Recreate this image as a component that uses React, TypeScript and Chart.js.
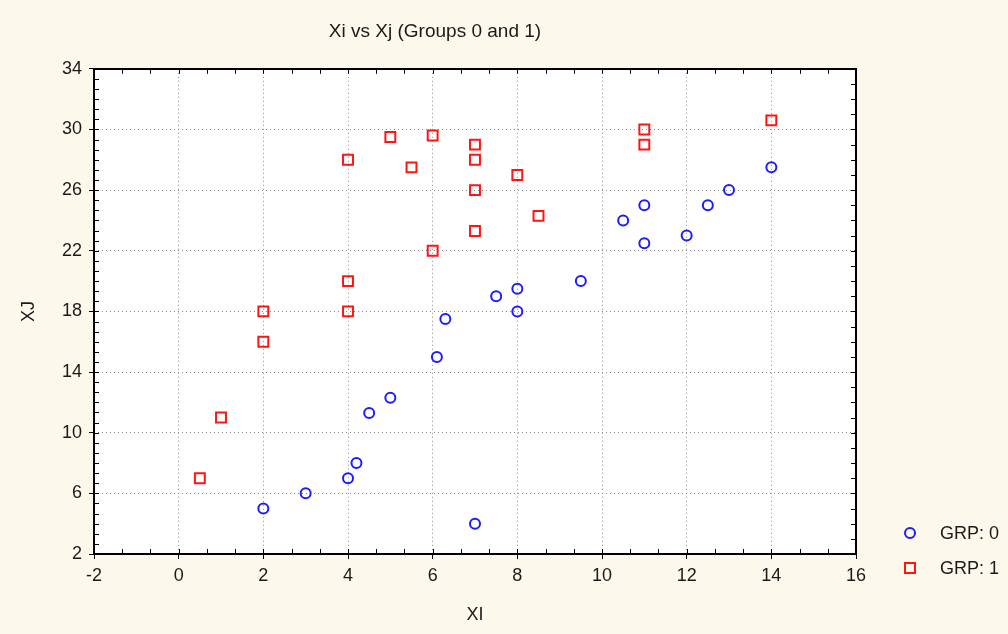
import React, { useEffect, useRef } from 'react';
import { Chart, registerables } from 'chart.js';

Chart.register(...registerables);

const CHART_TITLE = 'Xi vs Xj (Groups 0 and 1)';
const X_TITLE = 'XI';
const Y_TITLE = 'XJ';
const SERIES_NAMES = ['GRP: 0', 'GRP: 1'];

const grp0X = [2, 3, 4, 4.2, 4.5, 5, 6.1, 6.3, 7, 7.5, 8, 8, 9.5, 10.5, 11, 11, 12, 12.5, 13, 14];
const grp0Y = [5, 6, 7, 8, 11.3, 12.3, 15, 17.5, 4, 19, 19.5, 18, 20, 24, 25, 22.5, 23, 25, 26, 27.5];
const grp1X = [0.5, 1, 2, 2, 4, 4, 4, 5, 5.5, 6, 6, 7, 7, 7, 7, 8, 8.5, 11, 11, 14];
const grp1Y = [7, 11, 16, 18, 18, 20, 28, 29.5, 27.5, 29.6, 22, 29, 28, 26, 23.3, 27, 24.3, 30, 29, 30.6];

const X_MIN = -2;
const X_MAX = 16;
const X_STEP = 2;
const Y_MIN = 2;
const Y_MAX = 34;
const Y_STEP = 4;

const FONT_FAMILY = '"Liberation Sans", Arial, sans-serif';
const TEXT_COLOR = '#1a1a1a';
const BG = '#fdf8ec';
const BLUE = '#1c1cff';
const RED = '#ff1414';
const GRID = '#8a8a8a';

const toPoints = (xs: number[], ys: number[]) => xs.map((x, i) => ({ x, y: ys[i] }));

const framePlugin = {
  id: 'frameAndLegend',
  beforeDraw(chart: any) {
    const { ctx, chartArea } = chart;
    ctx.save();
    ctx.fillStyle = BG;
    ctx.fillRect(0, 0, chart.width, chart.height);
    ctx.fillStyle = '#ffffff';
    ctx.fillRect(chartArea.left, chartArea.top, chartArea.right - chartArea.left, chartArea.bottom - chartArea.top);
    ctx.restore();
  },
  afterDraw(chart: any) {
    const { ctx, chartArea } = chart;
    const xs = chart.scales.x;
    const ys = chart.scales.y;
    const { left, right, top, bottom } = chartArea;
    ctx.save();
    ctx.strokeStyle = '#000000';
    ctx.lineWidth = 1;
    const tl = 5;
    ctx.beginPath();
    const nx = Math.round((X_MAX - X_MIN) / (X_STEP / 3));
    for (let i = 1; i < nx; i++) {
      const px = Math.round(xs.getPixelForValue(X_MIN + (i * X_STEP) / 3)) + 0.5;
      ctx.moveTo(px, bottom);
      ctx.lineTo(px, bottom - tl);
      ctx.moveTo(px, top);
      ctx.lineTo(px, top + tl);
    }
    const nl = Math.round((Y_MAX - Y_MIN) / (Y_STEP / 6));
    for (let i = 1; i < nl; i++) {
      const py = Math.round(ys.getPixelForValue(Y_MIN + (i * Y_STEP) / 6)) + 0.5;
      ctx.moveTo(left, py);
      ctx.lineTo(left + tl, py);
    }
    const nr = Math.round((Y_MAX - Y_MIN) / (Y_STEP / 4));
    for (let i = 1; i < nr; i++) {
      const py = Math.round(ys.getPixelForValue(Y_MIN + (i * Y_STEP) / 4)) + 0.5;
      ctx.moveTo(right, py);
      ctx.lineTo(right - tl, py);
    }
    ctx.stroke();

    ctx.lineWidth = 2;
    ctx.strokeRect(Math.round(left), Math.round(top), Math.round(right - left), Math.round(bottom - top));

    const markerX = 910;
    const textX = 940;
    const rowY = [533, 568];
    ctx.font = '18px ' + FONT_FAMILY;
    ctx.textBaseline = 'middle';
    ctx.textAlign = 'left';
    chart.data.datasets.forEach((ds: any, i: number) => {
      ctx.lineWidth = 2;
      ctx.strokeStyle = ds.borderColor;
      ctx.beginPath();
      if (ds.pointStyle === 'rect') {
        ctx.rect(markerX - 5, rowY[i] - 5, 10, 10);
      } else {
        ctx.arc(markerX, rowY[i], 5, 0, Math.PI * 2);
      }
      ctx.stroke();
      ctx.fillStyle = TEXT_COLOR;
      ctx.fillText(ds.label, textX, rowY[i] + 1);
    });
    ctx.restore();
  },
};

export default function App() {
  const canvasRef = useRef<HTMLCanvasElement | null>(null);

  useEffect(() => {
    if (!canvasRef.current) return;
    const chart = new Chart(canvasRef.current, {
      type: 'scatter',
      data: {
        datasets: [
          {
            label: SERIES_NAMES[0],
            data: toPoints(grp0X, grp0Y),
            pointStyle: 'circle',
            pointRadius: 5,
            borderColor: BLUE,
            backgroundColor: 'rgba(0,0,0,0)',
            borderWidth: 2,
          },
          {
            label: SERIES_NAMES[1],
            data: toPoints(grp1X, grp1Y),
            pointStyle: 'rect',
            pointRadius: 7,
            borderColor: RED,
            backgroundColor: 'rgba(0,0,0,0)',
            borderWidth: 2,
          },
        ],
      },
      plugins: [framePlugin],
      options: {
        animation: false,
        responsive: false,
        devicePixelRatio: 1,
        layout: { padding: { left: 14, right: 152, top: 0, bottom: 8 } },
        plugins: {
          legend: { display: false },
          tooltip: { enabled: false },
          title: {
            display: true,
            text: CHART_TITLE,
            color: TEXT_COLOR,
            font: { family: FONT_FAMILY, size: 19, weight: 'normal' as any },
            padding: { top: 20, bottom: 26 },
          },
        },
        scales: {
          x: {
            type: 'linear',
            min: X_MIN,
            max: X_MAX,
            afterFit: (scale: any) => {
              scale.height = 72;
            },
            ticks: {
              stepSize: X_STEP,
              color: TEXT_COLOR,
              font: { family: FONT_FAMILY, size: 18 },
              padding: 6,
              maxRotation: 0,
            },
            grid: {
              color: GRID,
              lineWidth: 1,
              tickColor: '#000000',
              tickLength: 5,
              tickBorderDash: [],
            },
            border: { display: false, dash: [1, 3] },
            title: {
              display: true,
              text: X_TITLE,
              color: TEXT_COLOR,
              font: { family: FONT_FAMILY, size: 18 },
              padding: 0,
            },
          },
          y: {
            type: 'linear',
            min: Y_MIN,
            max: Y_MAX,
            afterFit: (scale: any) => {
              scale.width = 80;
            },
            ticks: {
              stepSize: Y_STEP,
              color: TEXT_COLOR,
              font: { family: FONT_FAMILY, size: 18 },
              padding: 7,
            },
            grid: {
              color: GRID,
              lineWidth: 1,
              tickColor: '#000000',
              tickLength: 5,
              tickBorderDash: [],
            },
            border: { display: false, dash: [1, 3] },
            title: {
              display: true,
              text: Y_TITLE,
              color: TEXT_COLOR,
              font: { family: FONT_FAMILY, size: 18 },
              padding: { top: 4, bottom: 0 },
            },
          },
        },
      },
    });
    return () => chart.destroy();
  }, []);

  return (
    <div style={{ position: 'fixed', left: 0, top: 0, width: 1008, height: 634, background: BG }}>
      <canvas ref={canvasRef} width={1008} height={634} style={{ display: 'block', width: 1008, height: 634 }} />
    </div>
  );
}
